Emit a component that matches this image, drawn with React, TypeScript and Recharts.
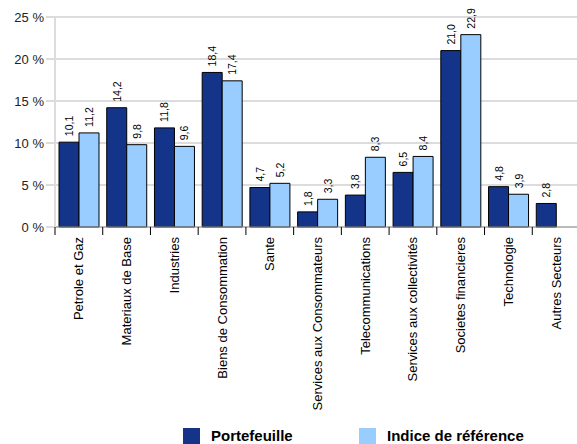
import React from "react"
import { BarChart, Bar, XAxis, YAxis, CartesianGrid, LabelList } from "recharts"

const sectors = [
  "Petrole et Gaz",
  "Materiaux de Base",
  "Industries",
  "Biens de Consommation",
  "Sante",
  "Services aux Consommateurs",
  "Telecommunications",
  "Services aux collectivités",
  "Societes financieres",
  "Technologie",
  "Autres Secteurs",
]
const portefeuille = [10.1, 14.2, 11.8, 18.4, 4.7, 1.8, 3.8, 6.5, 21.0, 4.8, 2.8]
const indice: Array<number | null> = [11.2, 9.8, 9.6, 17.4, 5.2, 3.3, 8.3, 8.4, 22.9, 3.9, null]
const yTicks = [0, 5, 10, 15, 20, 25]

const DARK = "#14348a"
const LIGHT = "#99ccff"
const FONT = "'Liberation Sans', Arial, sans-serif"

const data = sectors.map((name, i) => ({
  name,
  portefeuille: portefeuille[i],
  indice: indice[i],
}))

const fmt = (v: number) => v.toFixed(1).replace(".", ",")

// category label rotated, plus a tick mark on the left boundary of the band
function SectorTick(props: any) {
  const { x, y, payload } = props
  const half = payload?.offset ?? 0
  const bx = x - half
  return (
    <g>
      <line x1={bx} x2={bx} y1={y} y2={y + 8} stroke="#000" strokeWidth={1} />
      <text
        x={x}
        y={y + 10}
        transform={`rotate(-90 ${x} ${y + 10})`}
        textAnchor="end"
        dominantBaseline="central"
        fontSize={13}
        fontFamily={FONT}
        fill="#000"
      >
        {payload.value}
      </text>
    </g>
  )
}

function ValueLabel(props: any) {
  const { x, y, width, value } = props
  if (value == null) return null
  const cx = x + width / 2
  const ty = y - 6
  return (
    <text
      x={cx}
      y={ty}
      transform={`rotate(-90 ${cx} ${ty})`}
      textAnchor="start"
      dominantBaseline="central"
      fontSize={10.5}
      fontFamily={FONT}
      fill="#000"
    >
      {fmt(value)}
    </text>
  )
}

function LegendItem({ color, label, left }: { color: string; label: string; left: number }) {
  return (
    <div style={{ position: "absolute", left, top: 428, display: "flex", alignItems: "center" }}>
      <div style={{ width: 17, height: 16, background: color }} />
      <span
        style={{
          marginLeft: 11,
          fontFamily: FONT,
          fontWeight: "bold",
          fontSize: 15,
          lineHeight: "16px",
          color: "#000",
        }}
      >
        {label}
      </span>
    </div>
  )
}

export default function App() {
  return (
    <div
      style={{
        position: "fixed",
        left: 0,
        top: 0,
        width: 577,
        height: 444,
        overflow: "hidden",
        background: "#fff",
      }}
    >
      <BarChart
        width={580}
        height={444}
        data={data}
        margin={{ top: 17, right: 0, left: 0, bottom: 0 }}
        barGap={0}
        barSize={20}
      >
        <CartesianGrid vertical={false} stroke="#dcdcdc" strokeWidth={2} />
        <XAxis
          dataKey="name"
          interval={0}
          height={217}
          tickLine={false}
          tickSize={0}
          tickMargin={0}
          axisLine={{ stroke: "#999", strokeWidth: 1 }}
          tick={<SectorTick />}
        />
        <YAxis
          width={55}
          domain={[0, 25]}
          ticks={yTicks}
          tickFormatter={(v) => `${v} %`}
          tickLine={{ stroke: "#dcdcdc", strokeWidth: 2 }}
          tickSize={9}
          tickMargin={2}
          axisLine={{ stroke: "#dcdcdc", strokeWidth: 2 }}
          tick={{ fontSize: 13, fontFamily: FONT, fill: "#222" }}
        />
        <Bar dataKey="portefeuille" fill={DARK} stroke="#000" strokeWidth={1} isAnimationActive={false}>
          <LabelList dataKey="portefeuille" content={<ValueLabel />} />
        </Bar>
        <Bar dataKey="indice" fill={LIGHT} stroke="#000" strokeWidth={1} isAnimationActive={false}>
          <LabelList dataKey="indice" content={<ValueLabel />} />
        </Bar>
      </BarChart>
      <LegendItem color={DARK} label="Portefeuille" left={183} />
      <LegendItem color={LIGHT} label="Indice de référence" left={359} />
    </div>
  )
}
